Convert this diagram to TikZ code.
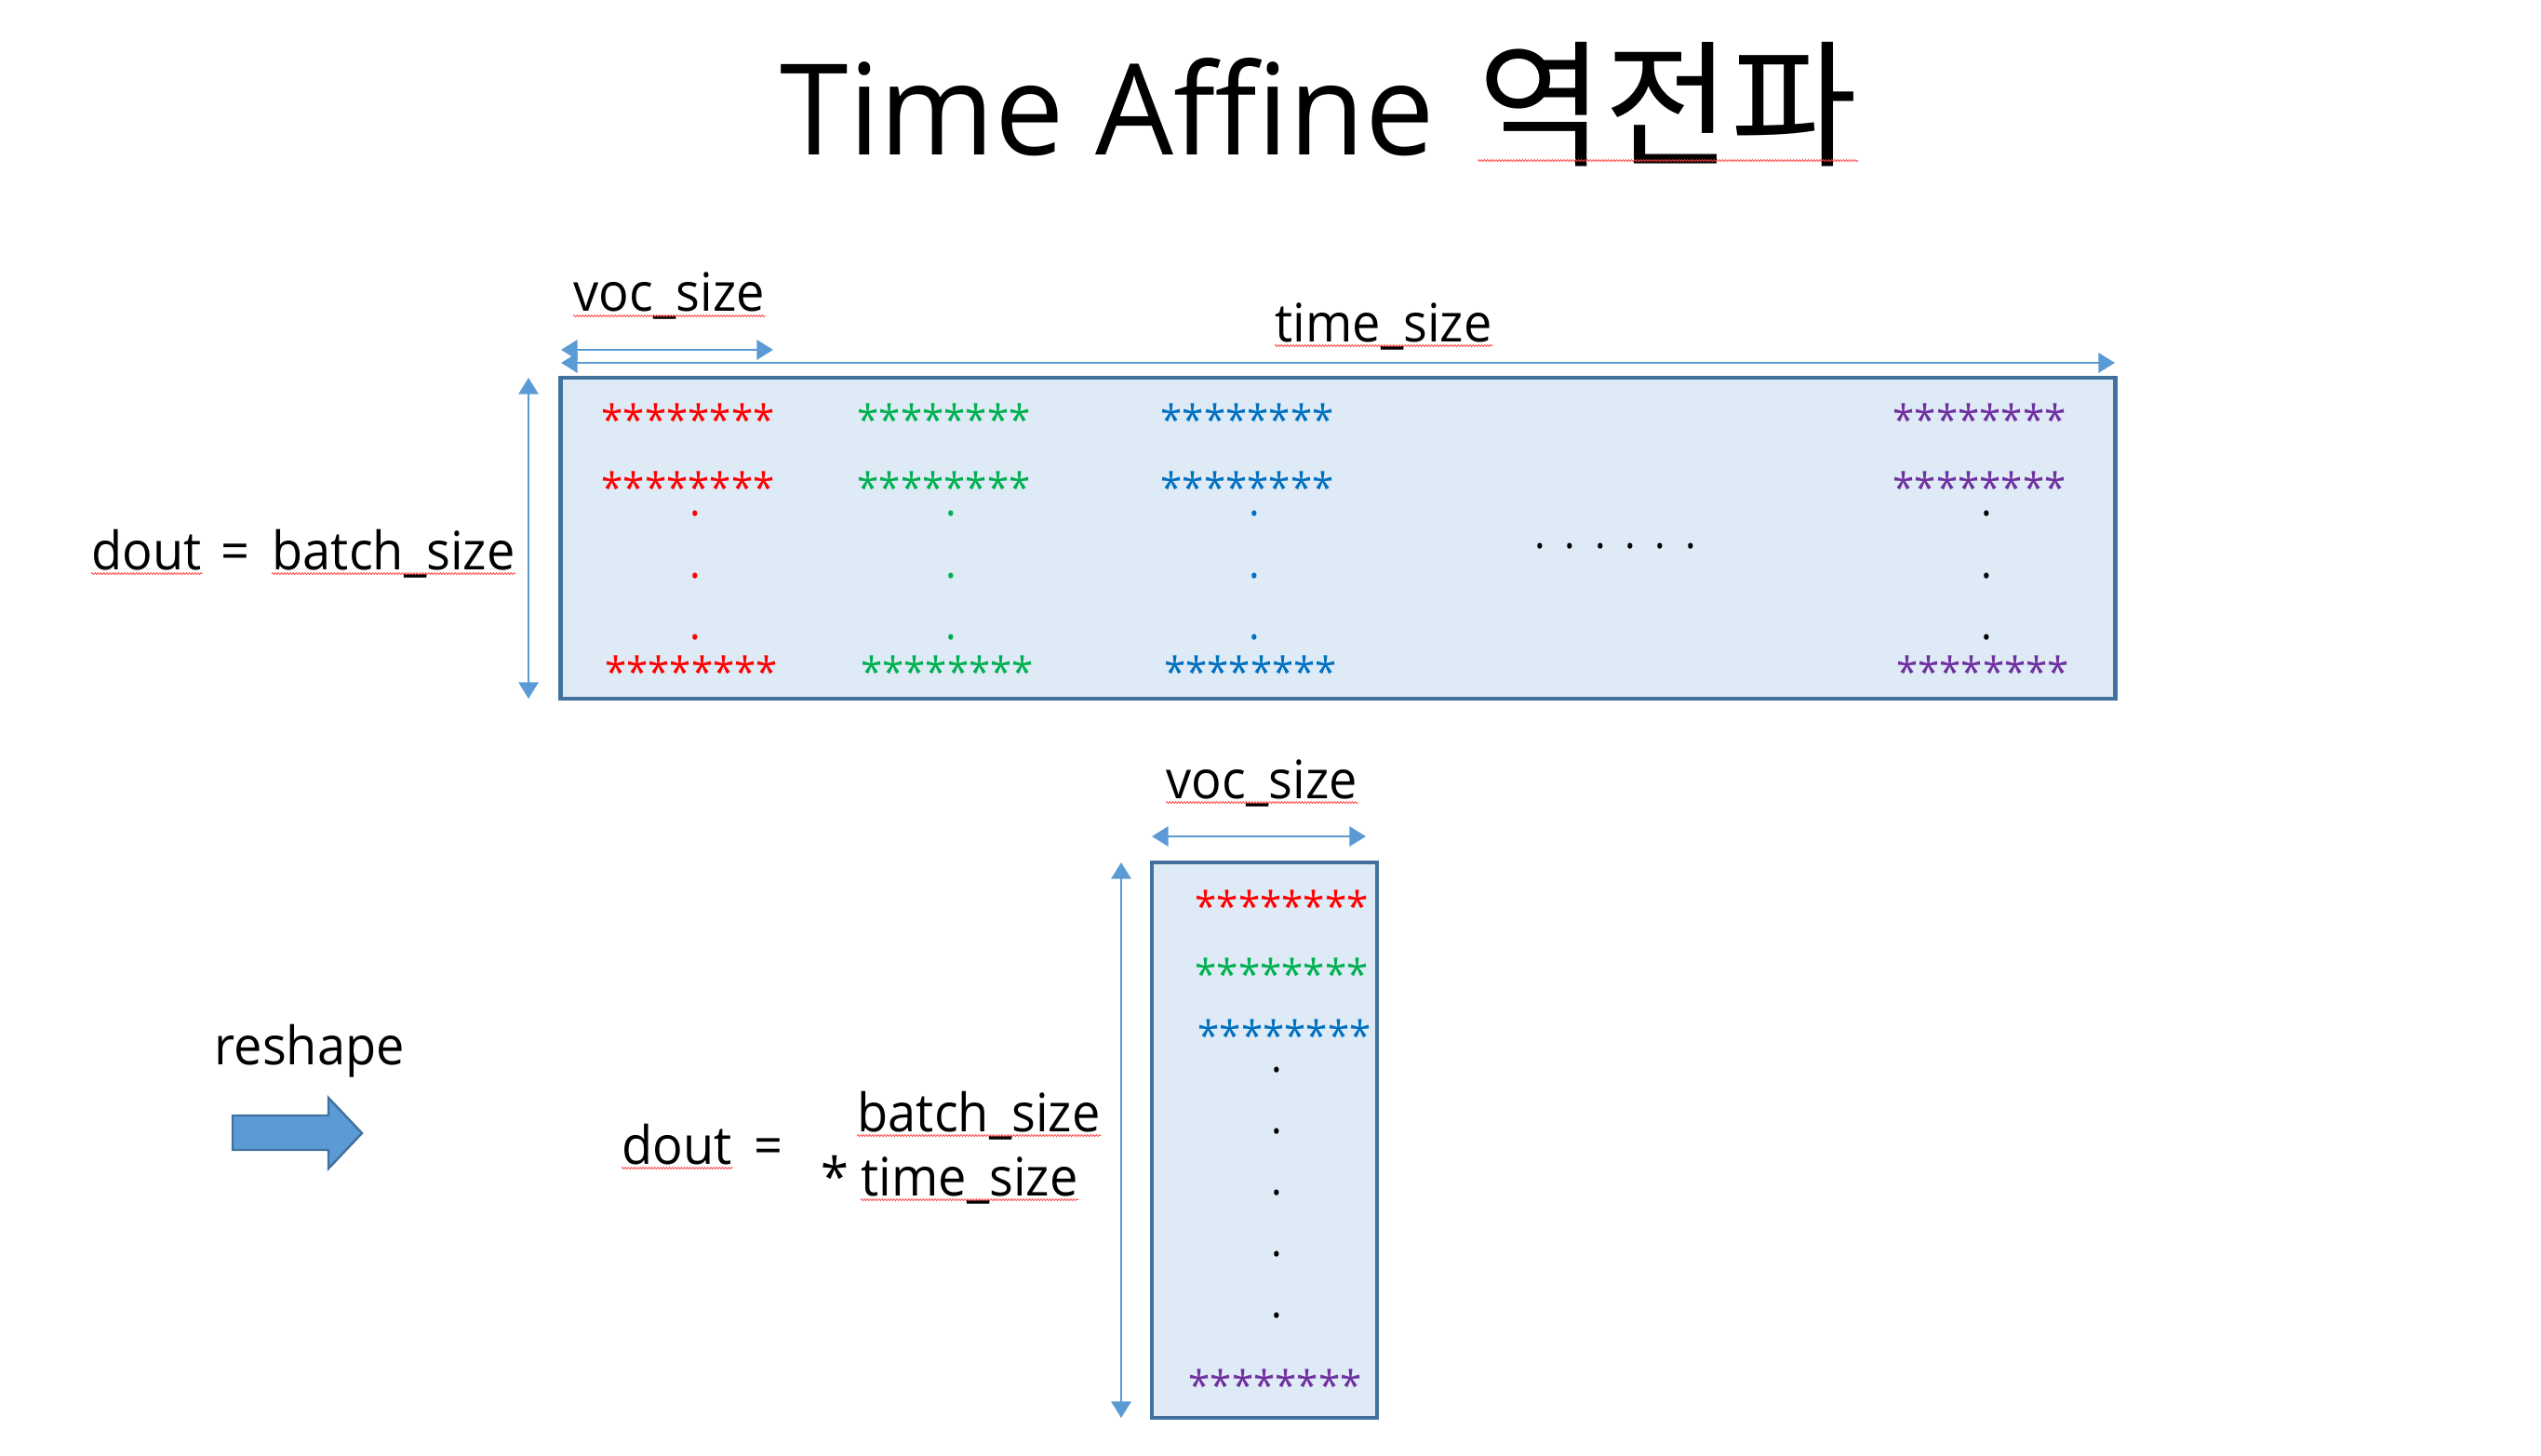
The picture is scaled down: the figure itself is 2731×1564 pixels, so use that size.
\documentclass[tikz,border=0pt]{standalone}
\usepackage{fontspec}
\setmainfont{Open Sans}[FakeStretch=0.95]
\newfontfamily\titlefont{Open Sans}[FakeStretch=0.975]
\newfontfamily\kor{Noto Sans CJK KR}
\usetikzlibrary{arrows.meta,decorations.pathmorphing}

\definecolor{boxfill}{HTML}{DEEBF7}
\definecolor{boxline}{HTML}{41719C}
\definecolor{dimblue}{HTML}{5B9BD5}
\definecolor{cred}{HTML}{FF0000}
\definecolor{cgreen}{HTML}{00B050}
\definecolor{cblue}{HTML}{0070C0}
\definecolor{cpurple}{HTML}{7030A0}

\tikzset{
  matrixbox/.style={rectangle, draw=boxline, line width=1.2pt, fill=boxfill, inner sep=0pt},
  dimarrow/.style={draw=dimblue, line width=0.8pt,
    {Triangle[length=5pt,width=6pt]}-{Triangle[length=5pt,width=6pt]}},
  txt/.style={font=\fontsize{16.2}{19}\selectfont, inner sep=0pt, anchor=base west},
  starrow/.style={font=\fontsize{12.6}{15}\selectfont, inner sep=0pt, anchor=north west},
  dotmark/.style={font=\fontsize{13.1}{15}\selectfont, inner sep=0pt, anchor=center},
  spell/.style={draw=red!75, line width=0.2pt, decorate,
    decoration={snake, amplitude=0.3pt, segment length=0.9pt}},
}

\begin{document}
\begin{tikzpicture}[x=0.01cm, y=-0.01cm]
  \fill[white] (0,0) rectangle (2731,1564);
  \useasboundingbox (0,0) rectangle (2731,1564);

  % title
  \node[inner sep=0pt, anchor=base west, font=\titlefont\fontsize{38.7}{46}\selectfont] (title) at (838,167) {Time Affine};
  \node[inner sep=0pt, anchor=base west, font=\kor\fontsize{42}{50}\selectfont] (titlekr) at (1588,168) {역전파};

  % ---------- upper matrix: batch_size x (time_size * voc_size)
  \node[matrixbox, minimum width=16.7cm, minimum height=3.45cm] (big) at (1438,578.5) {};

  \coordinate (vocA) at (603,376);  \coordinate (vocB) at (831,376);
  \coordinate (timeA) at (603,390); \coordinate (timeB) at (2273,390);
  \coordinate (batA) at (568,406);  \coordinate (batB) at (568,751);
  \draw[dimarrow] (vocA) -- (vocB);
  \draw[dimarrow] (timeA) -- (timeB);
  \draw[dimarrow, line width=0.6pt] (batA) -- (batB);

  \node[txt] (voc1) at (616,335) {voc\_size};
  \node[txt] (time1) at (1370,367) {time\_size};
  \node[txt] (dout1) at (98,612) {dout};
  \node[txt, anchor=base] (eq1) at (253,612) {=};
  \node[txt] (bat1) at (292,612) {batch\_size};

  \foreach \c/\x/\n in {cred/646/r, cgreen/921/g, cblue/1247/b, cpurple/2034/p} {
    \node[starrow, text=\c] (ua\n) at (\x,433) {********};
    \node[starrow, text=\c] (ub\n) at (\x,506) {********};
    \node[starrow, text=\c] (uc\n) at (\x+3.5,704) {********};
  }
  \foreach \c/\x/\n in {cred/747/r, cgreen/1022/g, cblue/1348/b, black/2135/p} {
    \foreach \y/\k in {552/1, 619/2, 685/3}
      \node[dotmark, text=\c] (ud\n\k) at (\x,\y) {.};
  }
  \foreach \i in {0,...,5}
    \node[dotmark] (mid\i) at (1655+32.4*\i,587) {.};

  % ---------- reshape
  \node[txt] (resh) at (230,1144) {reshape};
  \filldraw[fill=dimblue, draw=boxline, line width=0.7pt]
    (250,1199) -- (353,1199) -- (353,1180) -- (389,1218) -- (353,1256)
    -- (353,1236) -- (250,1236) -- cycle;

  % ---------- lower matrix: (batch_size * time_size) x voc_size
  \node[matrixbox, minimum width=2.42cm, minimum height=5.97cm] (small) at (1359,1225.5) {};

  \coordinate (voc2A) at (1238,899); \coordinate (voc2B) at (1468,899);
  \coordinate (bt2A) at (1205,927);  \coordinate (bt2B) at (1205,1524);
  \draw[dimarrow] (voc2A) -- (voc2B);
  \draw[dimarrow] (bt2A) -- (bt2B);

  \node[txt] (voc2) at (1253,858) {voc\_size};
  \node[txt] (dout2) at (668,1251) {dout};
  \node[txt, anchor=base] (eq2) at (826,1251) {=};
  \node[txt] (bat2) at (921,1216) {batch\_size};
  \node[txt] (times) at (882,1285) {*};
  \node[txt] (time2) at (925,1285) {time\_size};

  \node[starrow, text=cred] (la) at (1284,956) {********};
  \node[starrow, text=cgreen] (lb) at (1284,1029) {********};
  \node[starrow, text=cblue] (lc) at (1287,1095) {********};
  \node[starrow, text=cpurple] (le) at (1277,1471) {********};
  \foreach \y/\k in {1150/1, 1216/2, 1282/3, 1348/4, 1414/5}
    \node[dotmark] (ld\k) at (1372,\y) {.};

  % ---------- spelling marks under the unknown words
  \foreach \n in {titlekr, voc1, time1, dout1, bat1, voc2, dout2, bat2, time2}
    \draw[spell] ([yshift=-1.3pt]\n.base west) -- ([yshift=-1.3pt]\n.base east);
\end{tikzpicture}
\end{document}
